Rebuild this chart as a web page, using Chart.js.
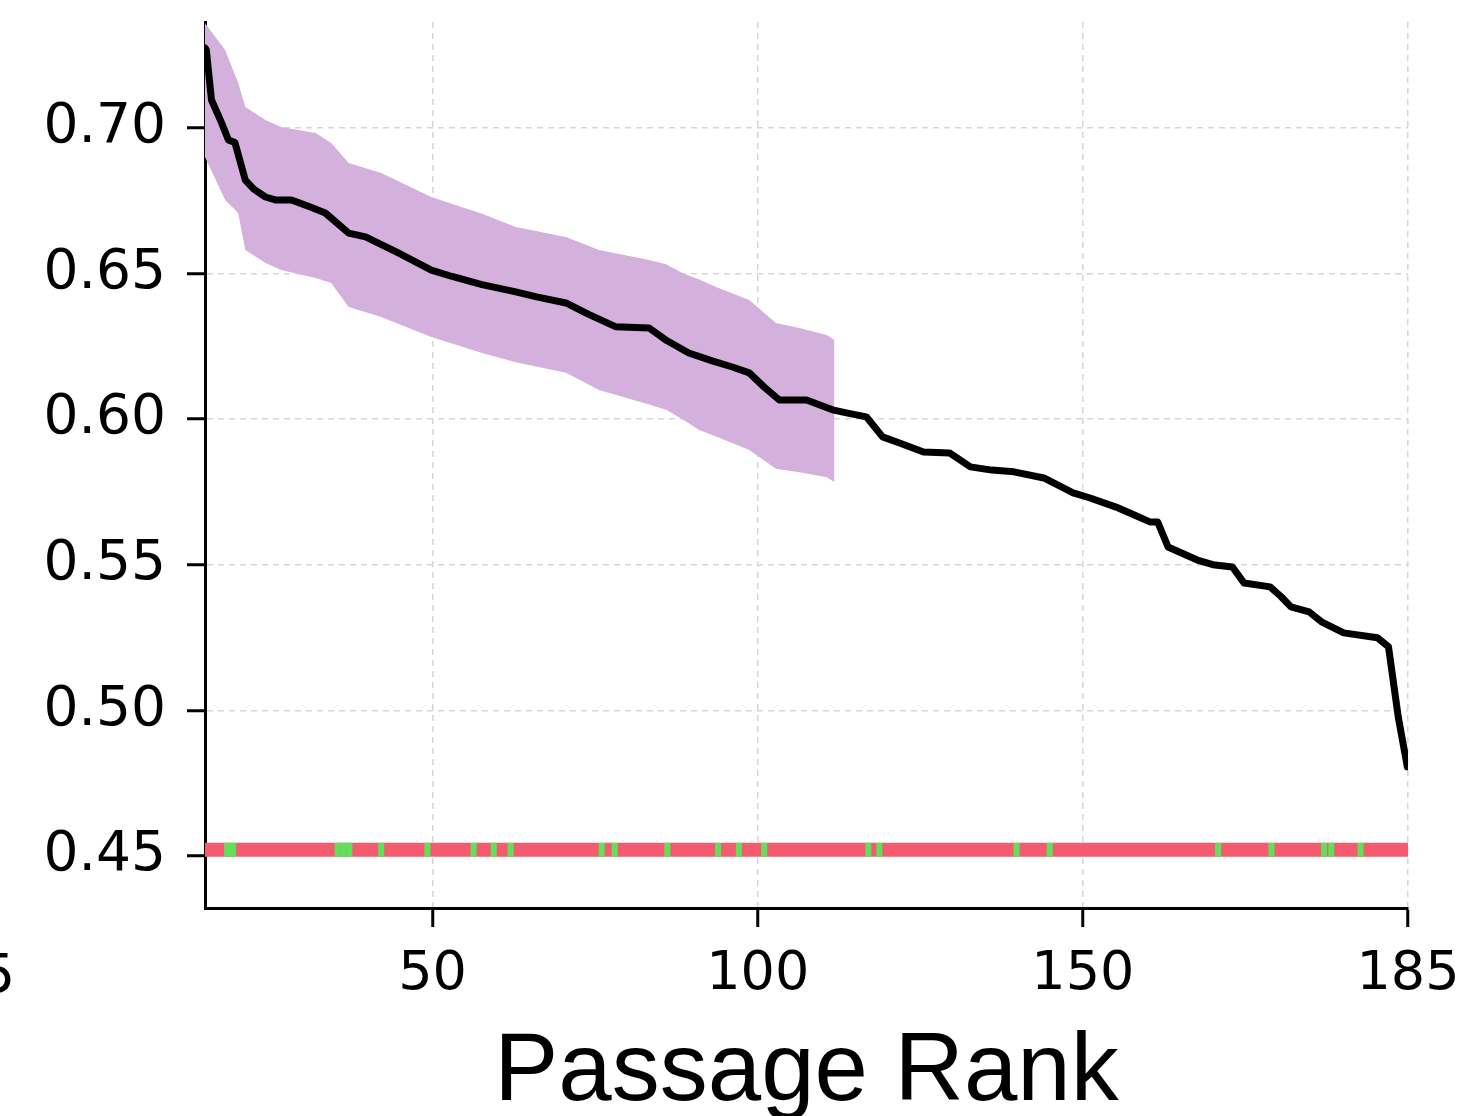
<!DOCTYPE html>
<html>
<head>
<meta charset="utf-8">
<script src="https://cdn.jsdelivr.net/npm/chart.js@4.4.1/dist/chart.umd.min.js"></script>
<style>
  html, body { margin: 0; padding: 0; background: #ffffff; }
  #wrap { width: 1470px; height: 1116px; position: relative; }
</style>
</head>
<body>
<div id="wrap"><canvas id="c" width="1470" height="1116"></canvas></div>
<script>
// ---- data ----
const lineX = [15, 15.2, 16, 17.5, 18.6, 19.6, 21.2, 22.5, 24.3, 25.8, 28.3, 31, 33.5, 37.1, 39.7, 44.8, 49.8, 53, 57.6, 62.8, 66, 70.5, 74, 78.2, 83.3, 86, 89.4, 93, 96.1, 98.7, 101, 103.3, 107.5, 111.5, 114, 116.7, 119.2, 121.8, 125.5, 129.5, 132.7, 136, 139.4, 144, 148.5, 151, 155.1, 158, 160.3, 161.5, 163.1, 167.6, 170, 173, 174.8, 178.8, 180.5, 182, 184.8, 186.7, 190.1, 195.3, 197, 198.5, 199.9];
const lineY = [0.7275, 0.7268, 0.7096, 0.702, 0.6959, 0.695, 0.6821, 0.679, 0.6763, 0.6753, 0.6753, 0.673, 0.6708, 0.6639, 0.6626, 0.657, 0.6512, 0.649, 0.6462, 0.6437, 0.642, 0.6399, 0.636, 0.6317, 0.6313, 0.627, 0.6227, 0.620, 0.6179, 0.6159, 0.611, 0.6066, 0.6066, 0.6032, 0.6020, 0.6008, 0.5939, 0.5918, 0.5887, 0.5884, 0.5836, 0.5825, 0.5819, 0.5798, 0.5747, 0.573, 0.5698, 0.567, 0.5647, 0.5647, 0.5561, 0.5516, 0.550, 0.5492, 0.5437, 0.5424, 0.539, 0.5355, 0.5338, 0.5304, 0.5266, 0.5249, 0.5218, 0.4977, 0.4806];

const bandX     = [15, 18.1, 20.1, 21.2, 24.3, 26.7, 32, 34.4, 37.1, 42.1, 49.8, 57.6, 62.8, 70.5, 75.6, 83.3, 85.9, 88.4, 91, 93.6, 98.7, 102.8, 106.4, 110.6, 111.8];
const bandUpper = [0.736, 0.7268, 0.7155, 0.7072, 0.7027, 0.7003, 0.6983, 0.6948, 0.688, 0.6845, 0.6763, 0.6705, 0.666, 0.6626, 0.6581, 0.6547, 0.6532, 0.6502, 0.648, 0.6454, 0.6409, 0.633, 0.6313, 0.6289, 0.6272];
const bandLower = [0.690, 0.6753, 0.6708, 0.6581, 0.6536, 0.6512, 0.6485, 0.6468, 0.6385, 0.6351, 0.6282, 0.6227, 0.6195, 0.6159, 0.61, 0.605, 0.6032, 0.600, 0.5963, 0.594, 0.5894, 0.583, 0.5818, 0.580, 0.5784];

const stripX = [15, 200];
const stripLevel = 0.4521;
const greenX = [18.4, 19.3, 35.4, 36.3, 37.2, 42.1, 49.2, 56.3, 59.4, 62.0, 76.0, 78.0, 86.1, 93.9, 97.1, 101.0, 117.0, 118.7, 139.8, 144.9, 170.8, 179.0, 187.1, 188.2, 192.7];

const xTickValues = [50, 100, 150, 200];
const xTickLabels = ['50', '100', '150', '185'];
const yTickValues = [0.45, 0.50, 0.55, 0.60, 0.65, 0.70];
const yTickLabels = ['0.45', '0.50', '0.55', '0.60', '0.65', '0.70'];
const xTitle = 'Passage Rank';
const strayLabel = '5';

// ---- build ----
const pts = (xs, ys) => xs.map((x, i) => ({ x: x, y: ys[i] }));

const edgeLabel = {
  id: 'edgeLabel',
  afterDraw(chart) {
    const ctx = chart.ctx;
    ctx.save();
    ctx.font = '54px "DejaVu Sans"';
    ctx.fillStyle = '#000';
    ctx.textAlign = 'right';
    ctx.textBaseline = 'alphabetic';
    ctx.fillText(strayLabel, 15, 992);
    ctx.restore();
  }
};

const zeroPad = s => { s.paddingTop = 0; s.paddingBottom = 0; s.paddingLeft = 0; s.paddingRight = 0; };

new Chart(document.getElementById('c'), {
  type: 'line',
  data: {
    datasets: [
      { data: pts(lineX, lineY), borderColor: '#000000', borderWidth: 7, pointRadius: 0,
        borderJoinStyle: 'round', borderCapStyle: 'round', fill: false, tension: 0, order: 0 },
      { data: greenX.map(x => ({ x: x, y: stripLevel })), showLine: false, pointStyle: 'line',
        rotation: 90, pointRadius: 7, pointBorderWidth: 6, borderWidth: 6, pointBorderColor: '#62e05c',
        borderColor: '#62e05c', order: 1 },
      { data: stripX.map(x => ({ x: x, y: stripLevel })), borderColor: '#f25c6e', borderWidth: 14,
        borderCapStyle: 'butt', pointRadius: 0, fill: false, order: 3 },
      { data: pts(bandX, bandUpper), borderWidth: 0, borderColor: 'rgba(0,0,0,0)', pointRadius: 0,
        backgroundColor: '#d4b1dc', fill: '+1', tension: 0, order: 2 },
      { data: pts(bandX, bandLower), borderWidth: 0, borderColor: 'rgba(0,0,0,0)', pointRadius: 0,
        fill: false, tension: 0, order: 2 }
    ]
  },
  options: {
    responsive: false,
    animation: false,
    events: [],
    layout: { padding: { left: 0, top: 22, right: 62, bottom: 0 } },
    plugins: { legend: { display: false }, tooltip: { enabled: false } },
    scales: {
      x: {
        type: 'linear', min: 15, max: 200,
        afterBuildTicks: s => { s.ticks = xTickValues.map(v => ({ value: v })); },
        afterFit: s => { s.height = 208; zeroPad(s); },
        ticks: {
          autoSkip: false, maxRotation: 0, padding: 16, color: '#000',
          font: { family: 'DejaVu Sans', size: 54 },
          callback: (v) => { const i = xTickValues.indexOf(v); return i >= 0 ? xTickLabels[i] : ''; }
        },
        grid: { color: '#d6d6d6', lineWidth: 1.5, tickColor: '#000', tickWidth: 3, tickLength: 19, drawTicks: true },
        border: { display: true, color: '#000', width: 3, dash: [6, 5] },
        title: { display: true, text: xTitle, color: '#000', padding: 0,
                 font: { family: 'Liberation Sans', size: 96, lineHeight: 0.88 } }
      },
      y: {
        type: 'linear', min: 0.4321, max: 0.7364,
        afterBuildTicks: s => { s.ticks = yTickValues.map(v => ({ value: v })); },
        afterFit: s => { s.width = 205; zeroPad(s); },
        ticks: {
          autoSkip: false, padding: 21, color: '#000',
          font: { family: 'DejaVu Sans', size: 55 },
          callback: (v) => { const i = yTickValues.findIndex(t => Math.abs(t - v) < 1e-9); return i >= 0 ? yTickLabels[i] : ''; }
        },
        grid: { color: '#d6d6d6', lineWidth: 1.5, tickColor: '#000', tickWidth: 3, tickLength: 18, drawTicks: true },
        border: { display: true, color: '#000', width: 3, dash: [6, 5] }
      }
    }
  },
  plugins: [edgeLabel]
});
</script>
</body>
</html>
